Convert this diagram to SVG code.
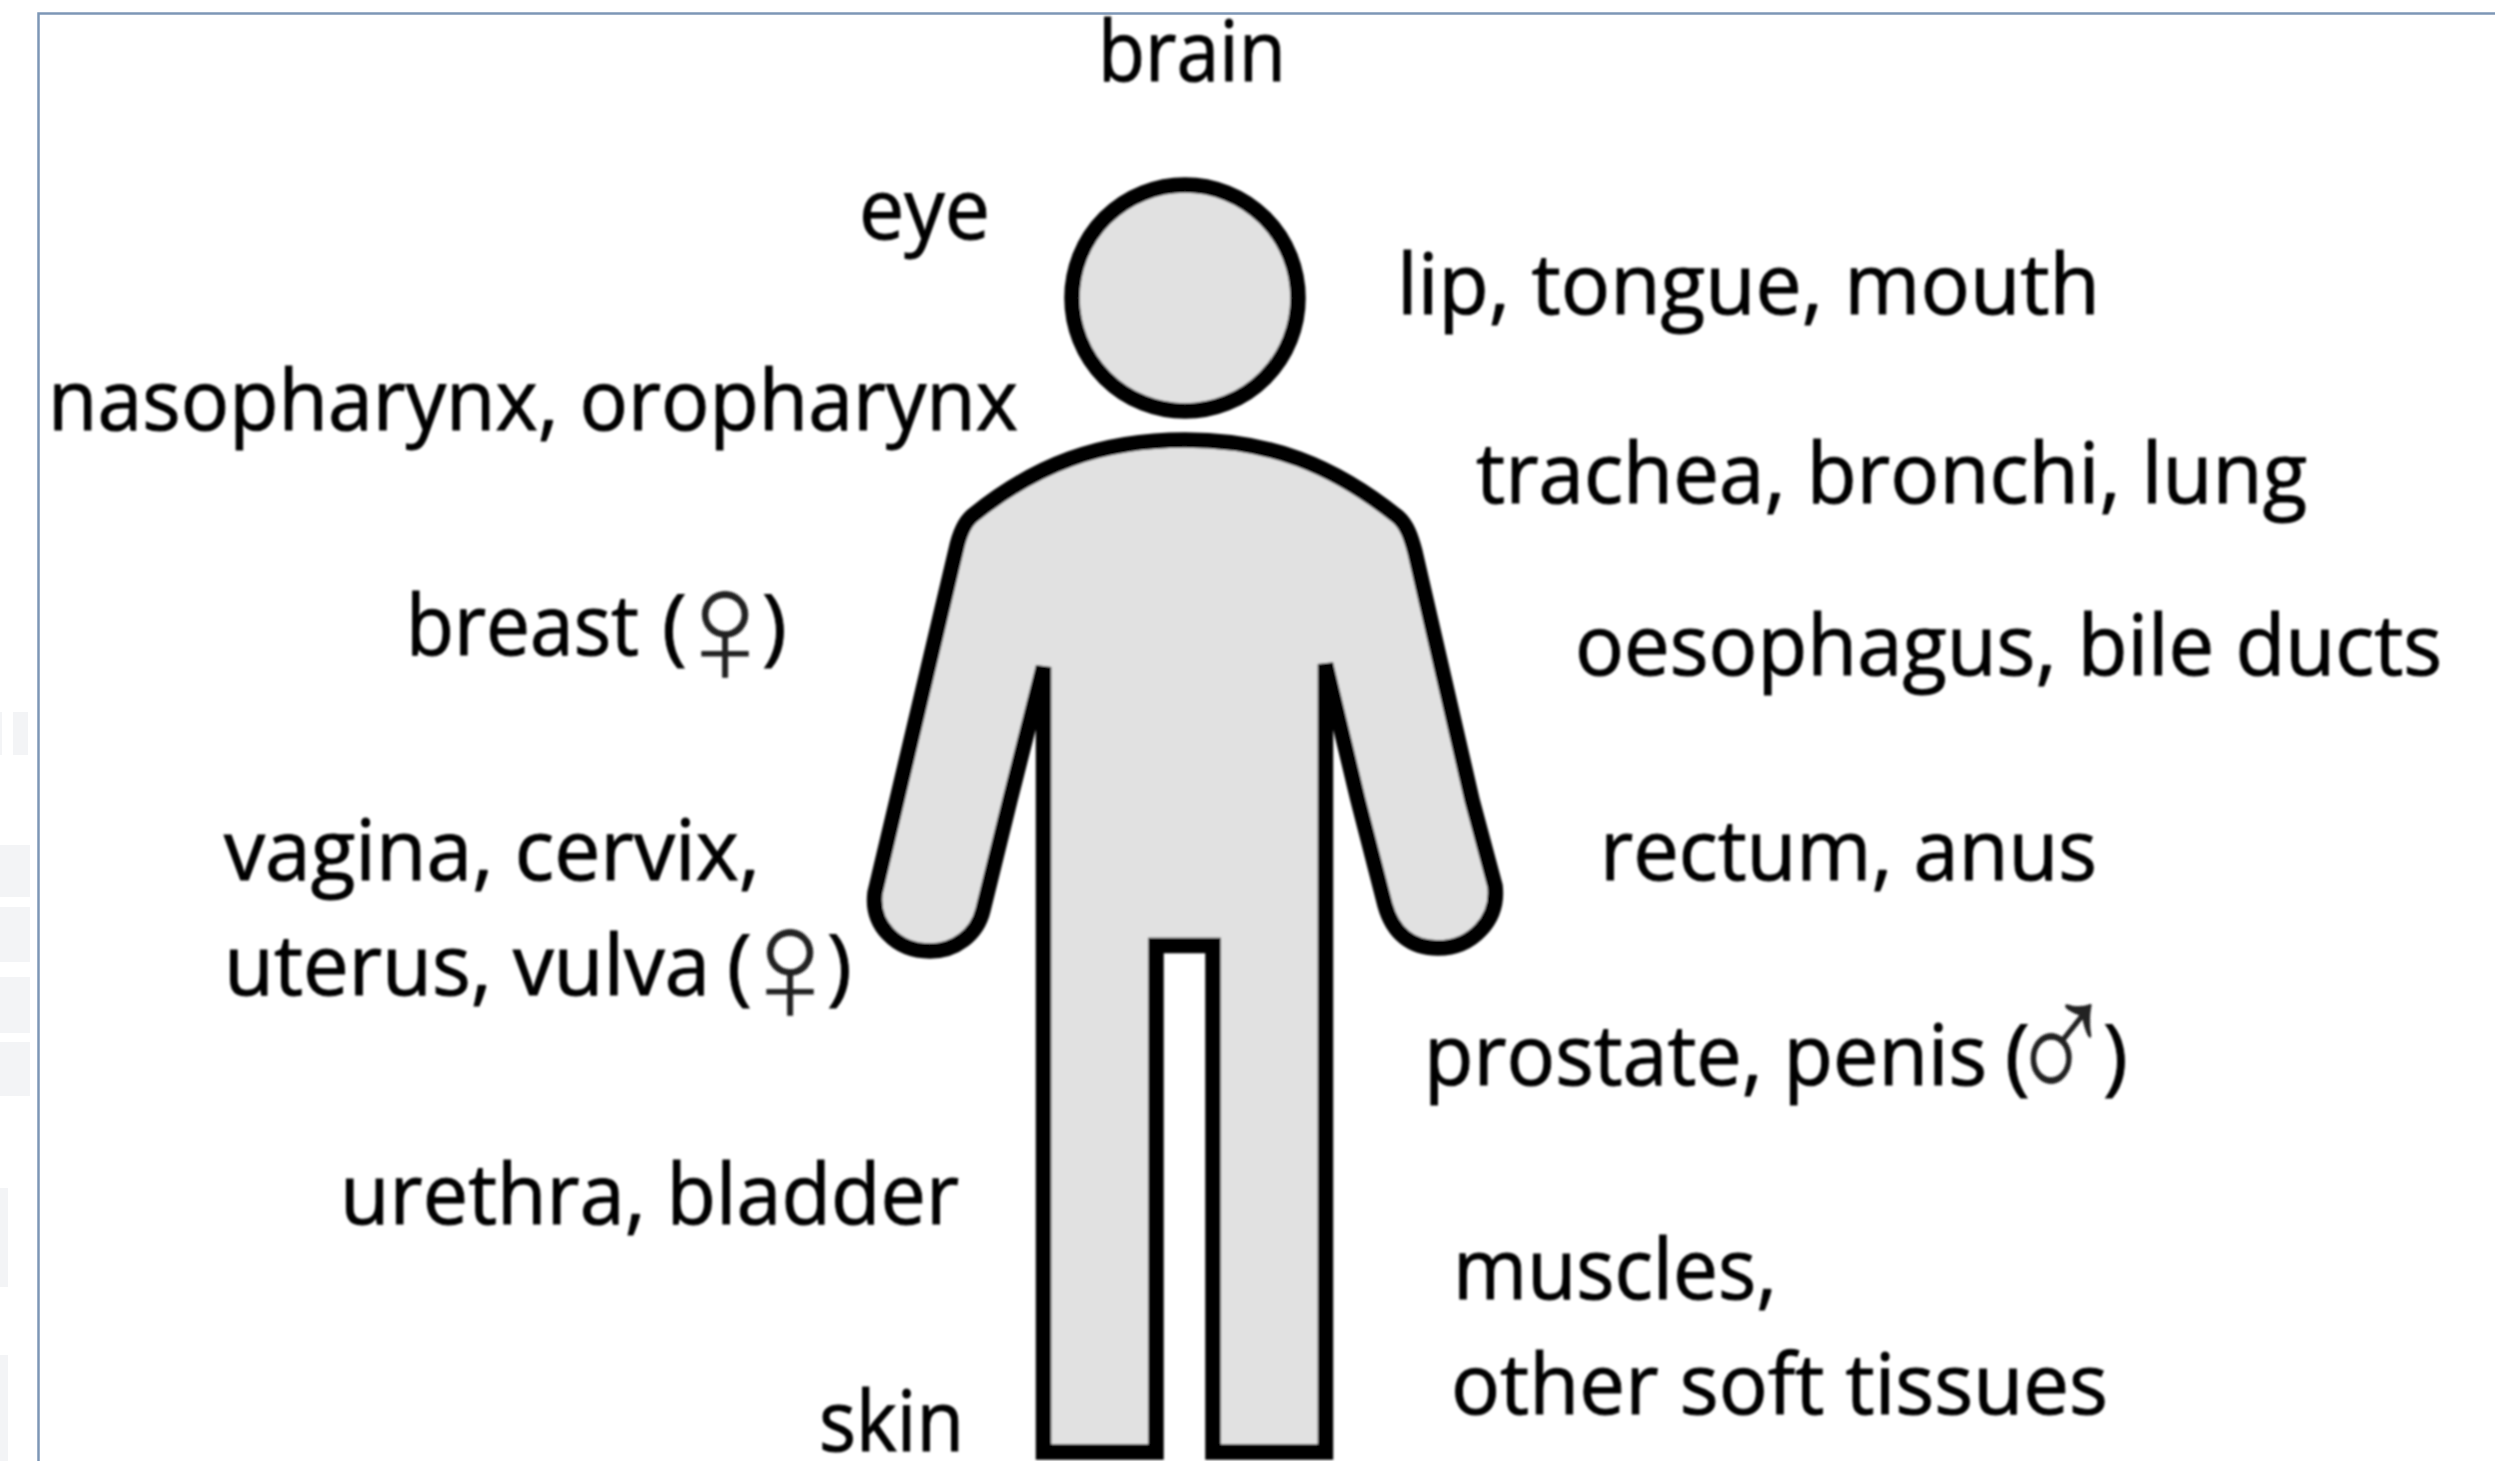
<svg xmlns="http://www.w3.org/2000/svg" width="2495" height="1461" viewBox="0 0 2495 1461">
<style>
.l{font-family:"Open Sans","Noto Sans","Liberation Sans",sans-serif;font-size:84px;fill:#000;stroke:#000;stroke-width:1}
.s{font-family:"Liberation Sans",sans-serif;font-size:165px;fill:#222;text-anchor:middle}
.m{font-family:"Liberation Sans",sans-serif;font-size:145px;fill:#222;text-anchor:middle}
.b{fill:#e1e1e1;stroke:#000;stroke-width:15.500;stroke-linejoin:miter}
.g{fill:#f3f4f6}
</style>
<defs><filter id="soft" x="-2%" y="-2%" width="104%" height="104%"><feGaussianBlur stdDeviation="0.9"/></filter></defs>
<rect width="2495" height="1461" fill="#fff"/>
<g id="gutter">
<rect class="g" x="0" y="712" width="2" height="43"/><rect class="g" x="13" y="712" width="15" height="43"/>
<rect class="g" x="0" y="845" width="30" height="52"/><rect class="g" x="0" y="907" width="30" height="55"/>
<rect class="g" x="0" y="977" width="30" height="56"/><rect class="g" x="0" y="1042" width="30" height="54"/>
<rect class="g" x="0" y="1188" width="8" height="99"/><rect class="g" x="0" y="1355" width="8" height="106"/>
</g>
<path id="frame" d="M38.500 1461V13.500H2495" fill="none" stroke="#7d97b6" stroke-width="2.500"/>
<g id="figure" filter="url(#soft)">
<circle id="head" class="b" cx="1185" cy="298" r="113"/>
<path id="body" class="b" d="M1043.500 667V1452H1156V945.500H1213V1452H1325.500V664L1358 800L1385 905C1393 934 1412 948 1438 948C1472 948 1499 920 1495 886L1472 800L1415 552C1411 537 1407 525 1398 517C1333 465 1270 440 1185 440C1100 440 1035 465 972 516C963 524 959 536 956 550L897 800L875 893C871 925 896 951 930 951C955 951 977 935 983 910L1010 800Z"/>
</g>
<g id="labels" filter="url(#soft)">
<text class="l" x="1098" y="81" textLength="188" lengthAdjust="spacingAndGlyphs">brain</text>
<text class="l" x="859" y="239" textLength="131" lengthAdjust="spacingAndGlyphs">eye</text>
<text class="l" x="1397" y="314" textLength="703" lengthAdjust="spacingAndGlyphs">lip, tongue, mouth</text>
<text class="l" x="48" y="430" textLength="970" lengthAdjust="spacingAndGlyphs">nasopharynx, oropharynx</text>
<text class="l" x="1476" y="503" textLength="831" lengthAdjust="spacingAndGlyphs">trachea, bronchi, lung</text>
<text class="l" x="406" y="655" textLength="233" lengthAdjust="spacingAndGlyphs">breast</text>
<text class="l" x="662" y="655">(</text>
<text class="s" x="725" y="684">♀</text>
<text class="l" x="762" y="655">)</text>
<text class="l" x="1575" y="675" textLength="867" lengthAdjust="spacingAndGlyphs">oesophagus, bile ducts</text>
<text class="l" x="224" y="880" textLength="536" lengthAdjust="spacingAndGlyphs">vagina, cervix,</text>
<text class="l" x="224" y="995" textLength="486" lengthAdjust="spacingAndGlyphs">uterus, vulva</text>
<text class="l" x="727" y="995">(</text>
<text class="s" x="790" y="1022">♀</text>
<text class="l" x="827" y="995">)</text>
<text class="l" x="1600" y="880" textLength="497" lengthAdjust="spacingAndGlyphs">rectum, anus</text>
<text class="l" x="1424" y="1085" textLength="563" lengthAdjust="spacingAndGlyphs">prostate, penis</text>
<text class="l" x="2005" y="1085">(</text>
<text class="m" transform="translate(2061,1106) scale(1,1.25)">♂</text>
<text class="l" x="2103" y="1085">)</text>
<text class="l" x="340" y="1224" textLength="619" lengthAdjust="spacingAndGlyphs">urethra, bladder</text>
<text class="l" x="1453" y="1299" textLength="324" lengthAdjust="spacingAndGlyphs">muscles,</text>
<text class="l" x="1451" y="1414" textLength="657" lengthAdjust="spacingAndGlyphs">other soft tissues</text>
<text class="l" x="819" y="1451" textLength="145" lengthAdjust="spacingAndGlyphs">skin</text>
</g>
</svg>
